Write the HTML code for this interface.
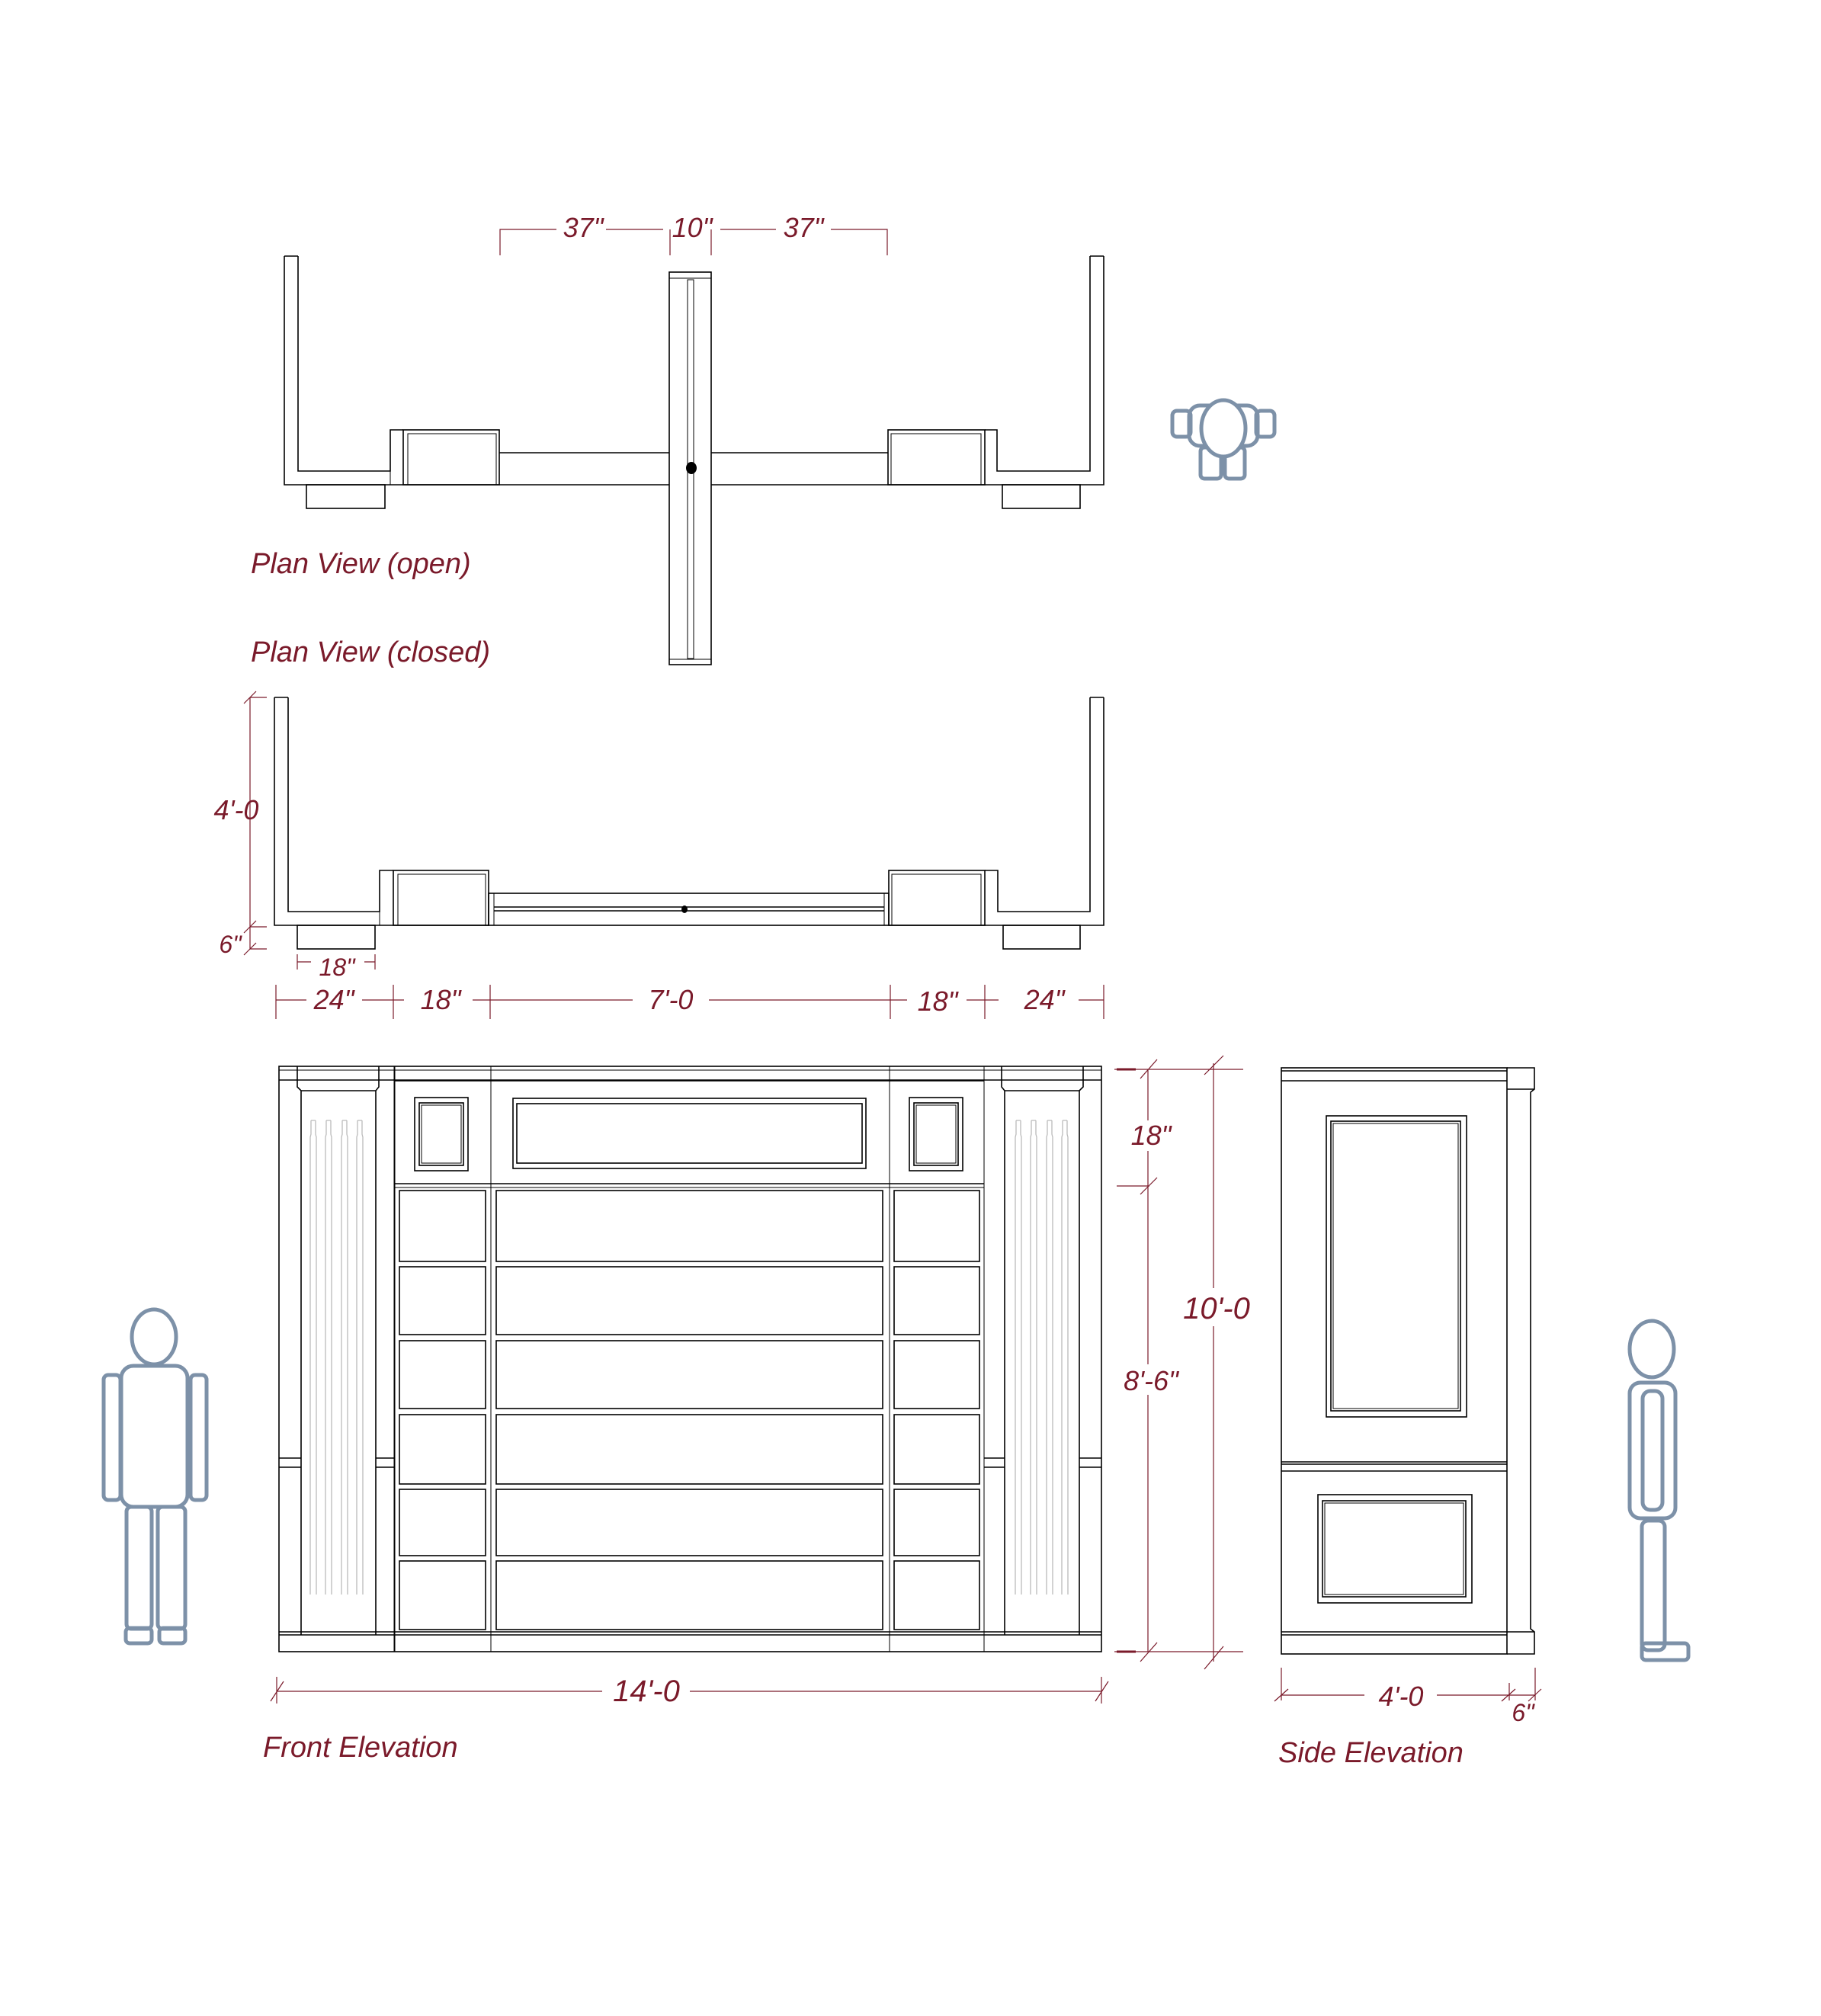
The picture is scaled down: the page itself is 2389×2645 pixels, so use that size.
<!DOCTYPE html>
<html><head><meta charset="utf-8"><style>
html,body{margin:0;padding:0;background:#fff}
svg{display:block}
.l{fill:none;stroke:#000;stroke-width:1.6}
.t{fill:none;stroke:#000;stroke-width:1}
.g{fill:none;stroke:#bbb;stroke-width:1.3}
.d{fill:none;stroke:#7a1a2a;stroke-width:1.2}
.p{fill:none;stroke:#7d91a8;stroke-width:5;stroke-linejoin:round}
text{font-family:"Liberation Sans",sans-serif;font-style:italic;fill:#7a1a2a}
.dt{font-size:36px;text-anchor:middle}
.lb{font-size:38px}
</style></head><body>
<svg width="2389" height="2645" viewBox="0 0 2389 2645" xmlns="http://www.w3.org/2000/svg">
<rect width="2389" height="2645" fill="#fff"/>

<!-- ===== PLAN OPEN ===== -->
<path class="l" d="M373 336 V636 H655 M391 336 V618 H512 V564 H529 M373 336 H391 M1448 336 V636 H1165 M1430 336 V618 H1308 V564 H1292 M1430 336 H1448"/>
<rect class="l" x="529" y="564" width="126" height="72"/>
<rect class="t" x="535" y="569" width="116" height="67"/>
<line class="t" x1="512" y1="564" x2="512" y2="636"/>
<rect class="l" x="1165" y="564" width="127" height="72"/>
<rect class="t" x="1169" y="569" width="118" height="67"/>
<path class="l" d="M655 594 H878 M655 636 H878 M933 594 H1165 M933 636 H1165"/>
<rect class="l" x="878" y="357" width="55" height="515"/>
<line class="t" x1="878" y1="365" x2="933" y2="365"/>
<line class="t" x1="878" y1="865" x2="933" y2="865"/>
<rect class="t" x="902" y="367" width="8" height="497"/>
<ellipse cx="907" cy="614" rx="7" ry="8" fill="#000"/>
<rect class="l" x="402" y="636" width="103" height="31"/>
<rect class="l" x="1315" y="636" width="102" height="31"/>
<!-- dims open -->
<path class="d" d="M656 335 V301 H730 M795 301 H870 M879 335 V301 M933 335 V301 M945 301 H1018 M1090 301 H1164 V335"/>
<text class="dt" x="765" y="311">37"</text>
<text class="dt" x="908" y="311">10"</text>
<text class="dt" x="1054" y="311">37"</text>
<text class="lb" x="329" y="752">Plan View (open)</text>
<text class="lb" x="329" y="868">Plan View (closed)</text>

<!-- top-view person -->
<g class="p" stroke-width="4">
<rect x="1538" y="539" width="24" height="34" rx="6"/>
<rect x="1648" y="539" width="24" height="34" rx="6"/>
<rect x="1560" y="532" width="90" height="53" rx="14"/>
<rect x="1575" y="587" width="27" height="41" rx="5"/>
<rect x="1607" y="587" width="26" height="41" rx="5"/>
<ellipse cx="1605" cy="562" rx="29" ry="37" fill="#fff"/>
</g>

<!-- ===== PLAN CLOSED ===== -->
<path class="l" d="M360 915 V1214 H641 M378 915 V1196 H498 V1142 H516 M360 915 H378 M1448 915 V1214 H1166 M1430 915 V1196 H1309 V1142 H1292 M1430 915 H1448"/>
<rect class="l" x="516" y="1142" width="125" height="72"/>
<rect class="t" x="522" y="1147" width="115" height="67"/>
<line class="t" x1="498" y1="1142" x2="498" y2="1214"/>
<rect class="l" x="1166" y="1142" width="126" height="72"/>
<rect class="t" x="1170" y="1147" width="117" height="67"/>
<rect class="l" x="641" y="1172" width="525" height="42"/>
<path class="l" d="M648 1190 H1160 M648 1195 H1160"/>
<path class="t" d="M648 1172 V1214 M1160 1172 V1214"/>
<ellipse cx="898" cy="1193" rx="4" ry="5" fill="#000"/>
<rect class="l" x="390" y="1214" width="102" height="31"/>
<rect class="l" x="1316" y="1214" width="101" height="31"/>
<!-- dims closed -->
<path class="d" d="M328 915 V1245 M320 923 L336 907 M320 1224 L336 1208 M320 1253 L336 1237 M328 915 H350 M328 1216 H350 M328 1245 H350"/>
<text class="dt" x="310" y="1075">4'-0</text>
<text class="dt" x="302" y="1250" style="font-size:32px">6"</text>
<path class="d" d="M390 1262 H408 M478 1262 H492 M390 1252 V1272 M492 1252 V1272"/>
<text class="dt" x="442" y="1280" style="font-size:32px">18"</text>
<path class="d" d="M362 1292 V1337 M516 1292 V1337 M643 1292 V1337 M1168 1292 V1337 M1292 1292 V1337 M1448 1292 V1337
M362 1312 H402 M475 1312 H530 M620 1312 H643 M643 1312 H830 M930 1312 H1168 M1168 1312 H1190 M1268 1312 H1310 M1415 1312 H1448"/>
<text class="dt" x="438" y="1324">24"</text>
<text class="dt" x="578" y="1324">18"</text>
<text class="dt" x="880" y="1324">7'-0</text>
<text class="dt" x="1230" y="1326">18"</text>
<text class="dt" x="1370" y="1324">24"</text>

<!-- ===== FRONT ELEVATION ===== -->
<rect class="l" x="366" y="1399" width="1079" height="768"/>
<line class="t" x1="366" y1="1404" x2="1445" y2="1404"/>
<line class="l" x1="366" y1="1417" x2="1445" y2="1417"/>
<path class="l" d="M390 1399 V1426 L395 1431 H493 L497 1426 V1399 M395 1431 V2145 M493 1431 V2145"/>
<path class="l" d="M1314 1399 V1426 L1318 1431 H1416 L1421 1426 V1399 M1318 1431 V2145 M1416 1431 V2145"/>
<path class="t" d="M517 1399 V2167 M1291 1399 V2167 M644 1399 V2167 M1167 1399 V2167 M518 1399 V2167"/>
<line class="l" x1="517" y1="1418" x2="1291" y2="1418"/>
<line class="l" x1="517" y1="1553" x2="1291" y2="1553"/>
<rect class="l" x="544" y="1440" width="70" height="96"/>
<rect class="l" x="550" y="1447" width="58" height="82"/>
<rect class="t" x="553" y="1450" width="52" height="76"/>
<rect class="l" x="1193" y="1440" width="70" height="96"/>
<rect class="l" x="1199" y="1447" width="58" height="82"/>
<rect class="t" x="1202" y="1450" width="52" height="76"/>
<rect class="l" x="673" y="1441" width="463" height="92"/>
<rect class="l" x="678" y="1448" width="453" height="78"/>
<g class="l">
<rect x="524" y="1562" width="113" height="93"/><rect x="651" y="1562" width="507" height="93"/><rect x="1173" y="1562" width="112" height="93"/>
<rect x="524" y="1662" width="113" height="89"/><rect x="651" y="1662" width="507" height="89"/><rect x="1173" y="1662" width="112" height="89"/>
<rect x="524" y="1759" width="113" height="89"/><rect x="651" y="1759" width="507" height="89"/><rect x="1173" y="1759" width="112" height="89"/>
<rect x="524" y="1856" width="113" height="91"/><rect x="651" y="1856" width="507" height="91"/><rect x="1173" y="1856" width="112" height="91"/>
<rect x="524" y="1954" width="113" height="87"/><rect x="651" y="1954" width="507" height="87"/><rect x="1173" y="1954" width="112" height="87"/>
<rect x="524" y="2048" width="113" height="90"/><rect x="651" y="2048" width="507" height="90"/><rect x="1173" y="2048" width="112" height="90"/>
</g>
<path class="t" d="M644 1556 V2145 M1167 1556 V2145 M518 1558 H1291"/>
<path class="l" d="M366 2145 H1445 M366 2141 H1445"/>
<path class="l" d="M366 1913 H395 M366 1925 H395 M493 1913 H517 M493 1925 H517 M1291 1913 H1318 M1291 1925 H1318 M1416 1913 H1445 M1416 1925 H1445"/>
<g class="g">
<path d="M408 1470 V1488 L407 1492 V2092 M414 1470 V1488 L415 1492 V2092 M408 1470 H414"/>
<path d="M428 1470 V1488 L427 1492 V2092 M434 1470 V1488 L435 1492 V2092 M428 1470 H434"/>
<path d="M449 1470 V1488 L448 1492 V2092 M455 1470 V1488 L456 1492 V2092 M449 1470 H455"/>
<path d="M469 1470 V1488 L468 1492 V2092 M475 1470 V1488 L476 1492 V2092 M469 1470 H475"/>
<path d="M1333 1470 V1488 L1332 1492 V2092 M1339 1470 V1488 L1340 1492 V2092 M1333 1470 H1339"/>
<path d="M1353 1470 V1488 L1352 1492 V2092 M1359 1470 V1488 L1360 1492 V2092 M1353 1470 H1359"/>
<path d="M1374 1470 V1488 L1373 1492 V2092 M1380 1470 V1488 L1381 1492 V2092 M1374 1470 H1380"/>
<path d="M1394 1470 V1488 L1393 1492 V2092 M1400 1470 V1488 L1401 1492 V2092 M1394 1470 H1400"/>
</g>
<!-- front dims -->
<path class="d" d="M1465 1403 H1631 M1465 1556 H1508 M1465 2167 H1631 M1506 1403 V1470 M1506 1510 V1790 M1506 1830 V2167 M1592 1395 V1690 M1592 1740 V2180
M1496 1415 L1518 1390 M1496 1567 L1518 1545 M1496 2180 L1518 2155 M1580 1410 L1605 1385 M1580 2190 L1605 2160 M1462 1403 H1470 M1462 2167 H1470"/>
<path stroke="#7a1a2a" stroke-width="3" d="M1465 1403 H1490 M1465 2167 H1490"/>
<text class="dt" x="1510" y="1502">18"</text>
<text class="dt" x="1510" y="1824">8'-6"</text>
<text class="dt" x="1596" y="1730" style="font-size:40px">10'-0</text>
<path class="d" d="M363 2200 V2235 M1445 2200 V2235 M363 2219 H790 M905 2219 H1445 M355 2232 L372 2206 M1437 2232 L1454 2206"/>
<text class="dt" x="848" y="2232" style="font-size:40px">14'-0</text>
<text class="lb" x="345" y="2305">Front Elevation</text>

<!-- left human -->
<g class="p">
<ellipse cx="202" cy="1754" rx="29" ry="36"/>
<rect x="159" y="1792" width="87" height="185" rx="16"/>
<rect x="136" y="1804" width="22" height="164" rx="6"/>
<rect x="250" y="1804" width="21" height="164" rx="6"/>
<rect x="166" y="1977" width="33" height="160" rx="6"/>
<rect x="207" y="1977" width="36" height="160" rx="6"/>
<rect x="165" y="2136" width="34" height="20" rx="5"/>
<rect x="209" y="2136" width="34" height="20" rx="5"/>
</g>

<!-- ===== SIDE ELEVATION ===== -->
<rect class="l" x="1681" y="1401" width="296" height="769"/>
<path class="l" d="M1681 1405 H1977 M1681 1418 H1977 M1977 1401 H2013 V1429 L2008 1433 V2137 L2013 2141 V2170 H1977 M1977 1429 H2013 M1681 2141 H2013 M1681 2145 H1977 M1681 1918 H1977 M1681 1930 H1977 M1681 1921 H1977"/>
<rect class="l" x="1740" y="1464" width="184" height="395"/>
<rect class="l" x="1746" y="1471" width="170" height="380"/>
<rect class="t" x="1749" y="1474" width="164" height="374"/>
<rect class="l" x="1729" y="1961" width="202" height="142"/>
<rect class="l" x="1735" y="1969" width="188" height="126"/>
<rect class="t" x="1738" y="1972" width="182" height="120"/>
<path class="d" d="M1681 2188 V2231 M1980 2208 V2231 M2014 2188 V2231 M1681 2224 H1790 M1885 2224 H2014 M1672 2232 L1690 2216 M1970 2232 L1988 2216 M2005 2232 L2022 2216"/>
<text class="dt" x="1838" y="2238">4'-0</text>
<text class="dt" x="1998" y="2258" style="font-size:32px">6"</text>
<text class="lb" x="1677" y="2312">Side Elevation</text>

<!-- right human -->
<g class="p">
<ellipse cx="2167" cy="1770" rx="29" ry="37"/>
<rect x="2138" y="1814" width="60" height="178" rx="14"/>
<rect x="2155" y="1825" width="26" height="156" rx="10"/>
<rect x="2154" y="1995" width="30" height="170" rx="8"/>
<rect x="2154" y="2156" width="61" height="22" rx="5"/>
</g>
</svg>
</body></html>
